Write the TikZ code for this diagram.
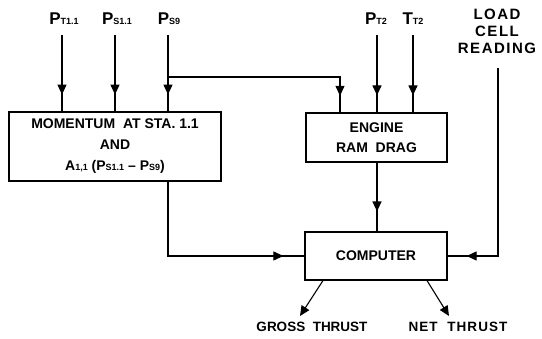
\documentclass[tikz,border=0pt]{standalone}
\usepackage{fontspec}
\setmainfont{Liberation Sans}
\newfontfamily\widefont[LetterSpace=10]{Liberation Sans}
\newfontfamily\semiwidefont[LetterSpace=8]{Liberation Sans}
\usetikzlibrary{arrows.meta,decorations.markings}
\newcommand{\sbs}[1]{{\fontsize{9}{9}\selectfont #1}}
\begin{document}
\begin{tikzpicture}[x=1pt,y=-1pt,
  box/.style={draw,line width=1.1pt,rectangle,inner sep=0pt,align=center},
  lbl/.style={inner sep=0pt},
  wire/.style={line width=1.1pt},
  tip/.style={-{Triangle[width=9pt,length=10pt]}},
  midarr/.style={postaction={decorate},decoration={markings,mark=at position #1 with {\arrow{Triangle[width=9pt,length=10pt]}}}},
]
\useasboundingbox (0,0) rectangle (542,339);

% boxes
\node[box,minimum width=212pt,minimum height=69pt,font=\bfseries\fontsize{14}{21}\selectfont] (mom) at (115,146.5)
  {MOMENTUM\ \ AT STA. 1.1\\AND\\A\sbs{1,1} (P\sbs{S1.1} -- P\sbs{S9})};
\node[box,minimum width=141pt,minimum height=49pt,font=\bfseries\fontsize{14}{20}\selectfont] (eng) at (376.5,137.5)
  {ENGINE\\RAM\ \ DRAG};
\node[box,minimum width=142pt,minimum height=48pt,font=\bfseries\fontsize{14}{15}\selectfont] (comp) at (376,256)
  {COMPUTER};

% input labels
\node[lbl,anchor=base,font=\bfseries\fontsize{17}{17}\selectfont] (pt11) at (64,25) {P\sbs{T1.1}};
\node[lbl,anchor=base,font=\bfseries\fontsize{17}{17}\selectfont] (ps11) at (117,25) {P\sbs{S1.1}};
\node[lbl,anchor=base,font=\bfseries\fontsize{17}{17}\selectfont] (ps9) at (169,25) {P\sbs{S9}};
\node[lbl,anchor=base,font=\bfseries\fontsize{17}{17}\selectfont] (pt2) at (376,25) {P\sbs{T2}};
\node[lbl,anchor=base,font=\bfseries\fontsize{17}{17}\selectfont] (tt2) at (413,25) {T\sbs{T2}};
\node[lbl,anchor=north,align=center,font=\widefont\bfseries\fontsize{15}{17}\selectfont] (load) at (497,9)
  {LOAD\\CELL\\READING};

% output labels
\node[lbl,anchor=base,font=\bfseries\fontsize{13.5}{15}\selectfont] (gross) at (312,332) {GROSS\ \ THRUST};
\node[lbl,anchor=base,font=\semiwidefont\bfseries\fontsize{13.5}{15}\selectfont] (net) at (458,332) {NET\ \ THRUST};

% line start points
\coordinate (a1) at (62,35);
\coordinate (a2) at (115,35);
\coordinate (a3) at (168,35);
\coordinate (br) at (168,77);
\coordinate (a4) at (377,35);
\coordinate (a5) at (413,35);
\coordinate (l0) at (498,68);
\coordinate (gt) at (300,316);
\coordinate (nt) at (449,316);

% connectors
\draw[wire,midarr=0.78] (a1) -- (a1 |- mom.north);
\draw[wire,midarr=0.78] (a2) -- (a2 |- mom.north);
\draw[wire,midarr=0.78] (a3) -- (a3 |- mom.north);
\draw[wire,midarr=0.92] (br) -| ([xshift=-36.5pt]eng.north);
\draw[wire,midarr=0.78] (a4) -- (a4 |- eng.north);
\draw[wire,midarr=0.78] (a5) -- (a5 |- eng.north);
\draw[wire,midarr=0.71] (a4 |- eng.south) -- (a4 |- comp.north);
\draw[wire,midarr=0.9] ([xshift=53pt]mom.south) |- (comp.west);
\draw[wire,midarr=0.92] (l0) |- (comp.east);
\draw[wire,tip] ([xshift=-53pt]comp.south) -- (gt);
\draw[wire,tip] ([xshift=51pt]comp.south) -- (nt);
\end{tikzpicture}
\end{document}
